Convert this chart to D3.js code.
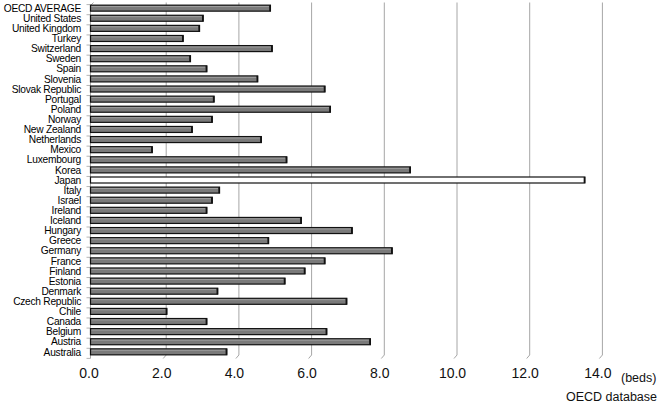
<!DOCTYPE html>
<html>
<head>
<meta charset="utf-8">
<script src="https://cdn.jsdelivr.net/npm/d3@7"></script>
<style>
  html, body { margin: 0; padding: 0; background: #fff; }
  svg { display: block; }
</style>
</head>
<body>
<svg id="chart"></svg>
<script>
// countries, top to bottom
const countries = [
  "OECD AVERAGE", "United States", "United Kingdom", "Turkey", "Switzerland",
  "Sweden", "Spain", "Slovenia", "Slovak Republic", "Portugal", "Poland",
  "Norway", "New Zealand", "Netherlands", "Mexico", "Luxembourg", "Korea",
  "Japan", "Italy", "Israel", "Ireland", "Iceland", "Hungary", "Greece",
  "Germany", "France", "Finland", "Estonia", "Denmark", "Czech Republic",
  "Chile", "Canada", "Belgium", "Austria", "Australia"
];
// hospital beds per 1000 population
const beds = [
  4.95, 3.1, 3.0, 2.55, 5.0,
  2.75, 3.2, 4.6, 6.45, 3.4, 6.6,
  3.35, 2.8, 4.7, 1.7, 5.4, 8.8,
  13.6, 3.55, 3.35, 3.2, 5.8, 7.2, 4.9,
  8.3, 6.45, 5.9, 5.35, 3.5, 7.05,
  2.1, 3.2, 6.5, 7.7, 3.75
];
const highlight = "Japan";
const xTicks = [0, 2, 4, 6, 8, 10, 12, 14];
const unitLabel = "(beds)";
const sourceLabel = "OECD database";

const width = 661, height = 405;
const depth = 3; // fake 3d offset of the back wall

const svg = d3.select("#chart")
  .attr("width", width)
  .attr("height", height)
  .attr("viewBox", `0 0 ${width} ${height}`);

const x = d3.scaleLinear().domain([0, 14]).range([90.5, 599.4]);
const y = d3.scaleBand().domain(countries).range([3.1, 356.9]);
const barH = 6;

// back wall grid lines with the little slanted foot
const grid = svg.append("g");
grid.selectAll("path")
  .data(xTicks.filter(d => d > 0))
  .join("path")
  .attr("d", d => `M${x(d) + depth},2.5 V355 L${x(d)},358.5`)
  .attr("fill", "none")
  .attr("stroke", "#a6a6a6")
  .attr("stroke-width", 1);

// category axis
svg.append("path")
  .attr("d", `M${x(0) + depth},2.5 L${x(0)},5.5 V358.5`)
  .attr("fill", "none")
  .attr("stroke", "#a6a6a6");
svg.append("g").selectAll("line")
  .data(countries.concat([null]))
  .join("line")
  .attr("x1", x(0) - 4)
  .attr("x2", x(0))
  .attr("y1", (d, i) => 3.1 + i * y.step() + 1.5)
  .attr("y2", (d, i) => 3.1 + i * y.step() + 1.5)
  .attr("stroke", "#b5b5b5");

// bars
const bars = svg.append("g");
const rows = countries.map((c, i) => ({ c, v: beds[i] }));
const cy = d => y(d.c) + y.bandwidth() / 2;

bars.selectAll("rect.bar")
  .data(rows)
  .join("rect")
  .attr("class", "bar")
  .attr("x", x(0))
  .attr("y", d => cy(d) - barH / 2)
  .attr("width", d => x(d.v) - x(0))
  .attr("height", barH)
  .attr("fill", d => d.c === highlight ? "#ffffff" : "#7a7a7a")
  .attr("stroke", "#111")
  .attr("stroke-width", 1.2);

// lighter top face
bars.selectAll("line.top")
  .data(rows.filter(d => d.c !== highlight))
  .join("line")
  .attr("class", "top")
  .attr("x1", x(0) + 1)
  .attr("x2", d => x(d.v) - 1.5)
  .attr("y1", d => cy(d) - barH / 2 + 1.4)
  .attr("y2", d => cy(d) - barH / 2 + 1.4)
  .attr("stroke", "#a8a8a8")
  .attr("stroke-width", 0.8);

// dark end cap
bars.selectAll("rect.cap")
  .data(rows)
  .join("rect")
  .attr("class", "cap")
  .attr("x", d => x(d.v) - 1.2)
  .attr("y", d => cy(d) - barH / 2)
  .attr("width", 1.6)
  .attr("height", barH)
  .attr("fill", "#111");

// category labels
svg.append("g").selectAll("text")
  .data(countries)
  .join("text")
  .attr("x", 81)
  .attr("y", d => y(d) + y.bandwidth() / 2)
  .attr("dy", "0.36em")
  .attr("text-anchor", "end")
  .attr("font-family", "Liberation Sans, Arial, sans-serif")
  .attr("font-size", 10.2)
  .attr("letter-spacing", "-0.25px")
  .attr("fill", "#000")
  .text(d => d);

// value axis labels
const xAxis = d3.axisBottom(x)
  .tickValues(xTicks)
  .tickFormat(d3.format(".1f"))
  .tickSize(0)
  .tickPadding(0);
const gx = svg.append("g")
  .attr("transform", "translate(-2,368.5)")
  .call(xAxis);
gx.select(".domain").remove();
gx.selectAll("text")
  .attr("font-family", "Liberation Sans, Arial, sans-serif")
  .attr("font-size", 14)
  .attr("fill", "#111")
  .attr("dy", "0.71em");

svg.append("text")
  .attr("x", 621)
  .attr("y", 381.5)
  .attr("font-family", "Liberation Sans, Arial, sans-serif")
  .attr("font-size", 12.5)
  .attr("fill", "#111")
  .text(unitLabel);

svg.append("text")
  .attr("x", 657)
  .attr("y", 401)
  .attr("text-anchor", "end")
  .attr("font-family", "Liberation Sans, Arial, sans-serif")
  .attr("font-size", 12.5)
  .attr("fill", "#111")
  .text(sourceLabel);
</script>
</body>
</html>
